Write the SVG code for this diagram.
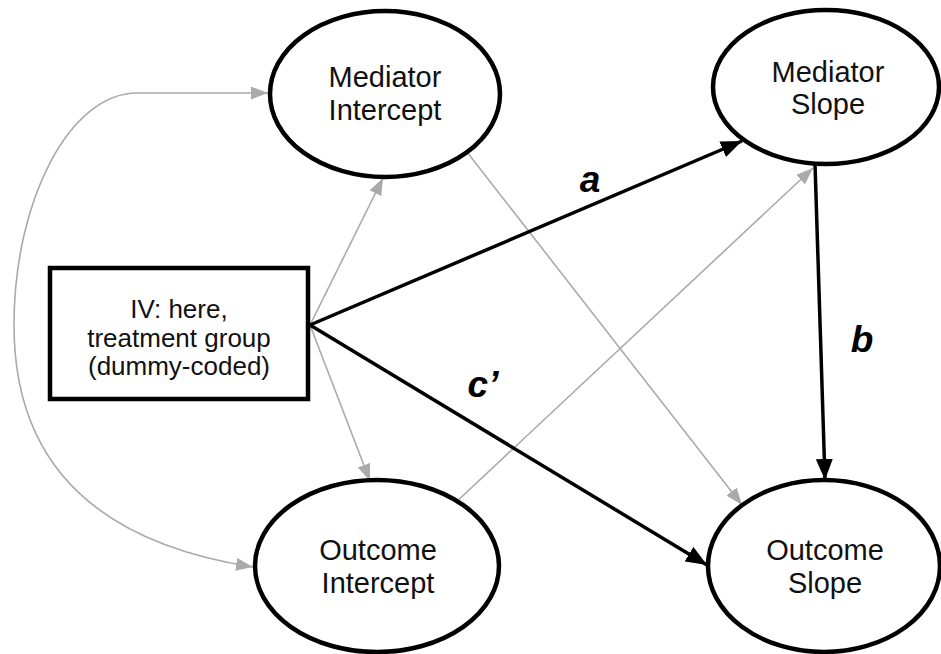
<svg xmlns="http://www.w3.org/2000/svg" width="941" height="654" viewBox="0 0 941 654">
<style>
.node { fill: #ffffff; stroke: #000000; stroke-width: 4.5; }
.lbl { font-family: "Liberation Sans", Arial, sans-serif; font-size: 29px; fill: #111; text-anchor: middle; }
.ivl { font-family: "Liberation Sans", Arial, sans-serif; font-size: 26px; fill: #111; text-anchor: middle; }
.path { font-family: "Liberation Sans", Arial, sans-serif; font-size: 37px; font-weight: bold; font-style: italic; fill: #000; text-anchor: middle; }
.gray { fill: none; stroke: #aaaaaa; stroke-width: 1.6; }
.black { fill: none; stroke: #000000; stroke-width: 3.5; }
</style>
<defs>
<marker id="ah-black" markerUnits="userSpaceOnUse" markerWidth="22" markerHeight="18" refX="21" refY="8.5" orient="auto">
<path d="M0,0 L21,8.5 L0,17 z" fill="#000"/>
</marker>
<marker id="ah-gray" markerUnits="userSpaceOnUse" markerWidth="18" markerHeight="14" refX="17" refY="6.5" orient="auto-start-reverse">
<path d="M0,0 L17,6.5 L0,13 z" fill="#aaaaaa"/>
</marker>
</defs>
<rect width="941" height="654" fill="#ffffff"/>
<g id="connectors">
<path class="gray" d="M 253,567 C 80,540 14,450 14,325 C 14,200 70,93 137,93 L 268,93" marker-start="url(#ah-gray)" marker-end="url(#ah-gray)"/>
<line class="gray" x1="310" y1="325" x2="383" y2="178" marker-end="url(#ah-gray)"/>
<line class="gray" x1="310" y1="325" x2="370" y2="481" marker-end="url(#ah-gray)"/>
<line class="gray" x1="467" y1="152" x2="742" y2="505" marker-end="url(#ah-gray)"/>
<line class="gray" x1="453" y1="505" x2="813" y2="168" marker-end="url(#ah-gray)"/>
<line class="black" x1="310" y1="325" x2="742" y2="141" marker-end="url(#ah-black)"/>
<line class="black" x1="310" y1="325" x2="707" y2="565" marker-end="url(#ah-black)"/>
<line class="black" x1="815" y1="164" x2="825" y2="480" marker-end="url(#ah-black)"/>
<text class="path" x="590" y="192">a</text>
<text class="path" x="862" y="352">b</text>
<text class="path" x="483" y="397">c’</text>
</g>
<g id="iv">
<rect class="node" x="50" y="268" width="258" height="131"/>
<text class="ivl" x="179" y="318">IV: here,</text>
<text class="ivl" x="179" y="347">treatment group</text>
<text class="ivl" x="179" y="375">(dummy-coded)</text>
</g>
<g id="mediator-intercept">
<ellipse class="node" cx="385" cy="94" rx="115" ry="83"/>
<text class="lbl" x="385" y="87">Mediator</text>
<text class="lbl" x="385" y="120">Intercept</text>
</g>
<g id="mediator-slope">
<ellipse class="node" cx="826" cy="87" rx="113" ry="77"/>
<text class="lbl" x="828" y="82">Mediator</text>
<text class="lbl" x="828" y="114">Slope</text>
</g>
<g id="outcome-intercept">
<ellipse class="node" cx="377" cy="566" rx="122" ry="86"/>
<text class="lbl" x="378" y="560">Outcome</text>
<text class="lbl" x="378" y="593">Intercept</text>
</g>
<g id="outcome-slope">
<ellipse class="node" cx="824" cy="566" rx="116" ry="86"/>
<text class="lbl" x="825" y="560">Outcome</text>
<text class="lbl" x="825" y="593">Slope</text>
</g>
</svg>
